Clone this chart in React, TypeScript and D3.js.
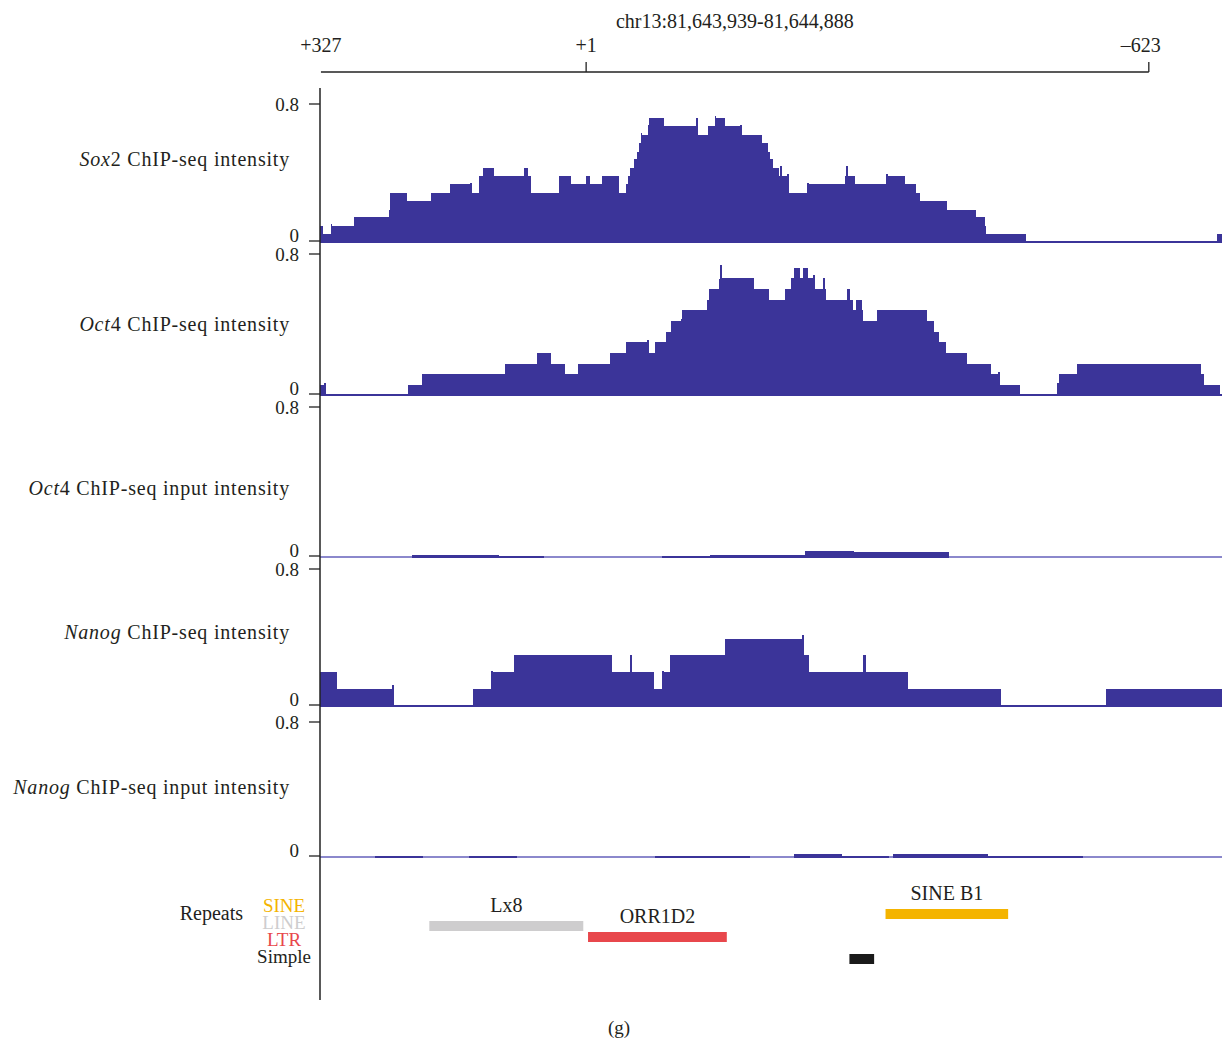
import React, { useEffect, useRef } from 'react'
import * as d3 from 'd3'

// region shown, offsets in bp from the left edge
const regionLabel = 'chr13:81,643,939-81,644,888'
const regionLength = 949

// top ruler: position (bp offset) and label relative to the TSS
const rulerPos = [1, 280, 872]
const rulerLabels = ['+327', '+1', '\u2013623']

const yTicks = [0, 0.8]

// step tracks: [start bp offset, value], each step runs to the next start
// null = no data
const sox2Steps: [number, number | null][] = [
  [0, 0.088], [3, 0.041], [12, 0.1], [13, 0.088], [36, 0.142], [73, 0.18], [74, 0.28], [92, 0.234],
  [117, 0.28], [137, 0.333], [158, 0.34], [160, 0.28], [167, 0.38], [171, 0.427], [183, 0.38],
  [215, 0.427], [219, 0.38], [222, 0.28], [251, 0.38], [264, 0.333], [280, 0.38], [284, 0.333],
  [297, 0.38], [315, 0.28], [322, 0.333], [324, 0.38], [326, 0.427], [330, 0.48], [333, 0.52],
  [336, 0.575], [338, 0.633], [339, 0.62], [345, 0.678], [346, 0.717], [362, 0.672], [396, 0.717],
  [398, 0.62], [408, 0.672], [416, 0.73], [417, 0.717], [426, 0.672], [442, 0.678], [444, 0.62],
  [465, 0.575], [471, 0.52], [473, 0.48], [477, 0.427], [483, 0.38], [484, 0.44], [486, 0.38],
  [491, 0.39], [493, 0.28], [512, 0.34], [514, 0.333], [552, 0.38], [553, 0.44], [555, 0.38],
  [563, 0.333], [595, 0.39], [598, 0.38], [616, 0.333], [627, 0.28], [631, 0.234], [660, 0.18],
  [690, 0.14], [700, 0.088], [701, 0.041], [743, 0], [944, 0.041],
]

const oct4Steps: [number, number | null][] = [
  [0, 0.051], [4, 0.065], [6, 0], [93, 0.051], [107, 0.114], [195, 0.171], [228, 0.234], [243, 0.171],
  [258, 0.114], [271, 0.171], [305, 0.234], [322, 0.297], [344, 0.308], [346, 0.234], [352, 0.297],
  [364, 0.354], [369, 0.417], [380, 0.43], [381, 0.48], [407, 0.537], [409, 0.6], [420, 0.66],
  [421, 0.737], [423, 0.663], [457, 0.6], [472, 0.537], [489, 0.6], [496, 0.663], [499, 0.72],
  [505, 0.663], [508, 0.72], [513, 0.663], [519, 0.68], [521, 0.6], [529, 0.663], [531, 0.6],
  [532, 0.537], [554, 0.6], [558, 0.537], [561, 0.48], [564, 0.537], [570, 0.48], [571, 0.417],
  [586, 0.48], [639, 0.417], [646, 0.354], [651, 0.297], [659, 0.234], [681, 0.171], [706, 0.114],
  [713, 0.126], [715, 0.051], [736, 0], [775, 0.063], [777, 0.051], [778, 0.114], [796, 0.171],
  [927, 0.114], [930, 0.051], [947, 0],
]

const oct4InputSteps: [number, number | null][] = [
  [0, null], [97, 0.004], [188, 0], [236, null], [360, 0], [410, 0.004], [510, 0.028], [562, 0.022], [662, null],
]

const nanogSteps: [number, number | null][] = [
  [0, 0.194], [18, 0.094], [76, 0.118], [78, 0], [161, 0.094], [180, 0.2], [182, 0.194], [204, 0.294],
  [307, 0.194], [326, 0.294], [328, 0.194], [351, 0.094], [360, 0.2], [362, 0.194], [368, 0.294],
  [426, 0.388], [507, 0.41], [509, 0.294], [514, 0.194], [571, 0.294], [574, 0.194], [619, 0.094],
  [716, 0], [827, 0.094],
]

const nanogInputSteps: [number, number | null][] = [
  [0, null], [58, 0], [108, null], [157, 0], [207, null], [352, 0], [452, null], [499, 0.012],
  [549, 0], [599, null], [603, 0.012], [703, 0], [803, null],
]

// repeat annotations
const repeatNames = ['Lx8', 'ORR1D2', 'SINE B1', '']
const repeatClasses = ['LINE', 'LTR', 'SINE', 'Simple']
const repeatStart = [115, 282, 595, 557]
const repeatEnd = [277, 428, 724, 583]

const legendClasses = ['SINE', 'LINE', 'LTR', 'Simple']

// layout
const W = 1224
const H = 1040
const fillColor = '#3b3499'
const baseColor = '#8b88cc'
const textColor = '#231f20'
const font = '"Liberation Serif", serif'
const classColor: Record<string, string> = { SINE: '#f4b400', LINE: '#cecdce', LTR: '#e8474c', Simple: '#1a1a1a' }
const classRowY: Record<string, number> = { SINE: 909, LINE: 921, LTR: 932, Simple: 954 }

const tracks = [
  { gene: 'Sox', rest: '2 ChIP-seq intensity', steps: sox2Steps, top: 104, zero: 241, labelY: 166 },
  { gene: 'Oct', rest: '4 ChIP-seq intensity', steps: oct4Steps, top: 254, zero: 394, labelY: 331 },
  { gene: 'Oct', rest: '4 ChIP-seq input intensity', steps: oct4InputSteps, top: 407, zero: 556, labelY: 495 },
  { gene: 'Nanog', rest: ' ChIP-seq intensity', steps: nanogSteps, top: 569, zero: 705, labelY: 639 },
  { gene: 'Nanog', rest: ' ChIP-seq input intensity', steps: nanogInputSteps, top: 722, zero: 856, labelY: 794 },
]

export default function App() {
  const ref = useRef<SVGSVGElement>(null)

  useEffect(() => {
    const svg = d3.select(ref.current)
    svg.selectAll('*').remove()

    const x = d3.scaleLinear().domain([0, regionLength]).range([320, 1222])
    const axisX = 320

    svg.append('rect').attr('width', W).attr('height', H).attr('fill', '#fff')

    // title and ruler
    svg.append('text')
      .attr('x', x((rulerPos[0] + rulerPos[rulerPos.length - 1]) / 2))
      .attr('y', 28)
      .attr('text-anchor', 'middle')
      .attr('font-family', font).attr('font-size', 20).attr('fill', textColor)
      .text(regionLabel)

    svg.append('line')
      .attr('x1', x(rulerPos[0])).attr('x2', x(rulerPos[rulerPos.length - 1]))
      .attr('y1', 72).attr('y2', 72)
      .attr('stroke', '#222').attr('stroke-width', 1.3)

    rulerPos.forEach((p, i) => {
      const last = i === rulerPos.length - 1
      if (i > 0) {
        svg.append('line')
          .attr('x1', x(p)).attr('x2', x(p)).attr('y1', 62).attr('y2', 72)
          .attr('stroke', '#222').attr('stroke-width', 1.3)
      }
      svg.append('text')
        .attr('x', x(p) + (last ? -8 : 0)).attr('y', 52)
        .attr('text-anchor', 'middle')
        .attr('font-family', font).attr('font-size', 20).attr('fill', textColor)
        .text(rulerLabels[i])
    })

    // signal tracks
    tracks.forEach(t => {
      const y = d3.scaleLinear().domain([0, 0.8]).range([t.zero, t.top])
      const g = svg.append('g')

      g.append('line')
        .attr('x1', x(0)).attr('x2', x(regionLength))
        .attr('y1', y(0) + 1).attr('y2', y(0) + 1)
        .attr('stroke', baseColor).attr('stroke-width', 2)

      const segs = t.steps
        .map((s, i) => ({
          start: s[0],
          end: i < t.steps.length - 1 ? t.steps[i + 1][0] : regionLength,
          v: s[1],
        }))
        .filter(d => d.v !== null) as { start: number; end: number; v: number }[]

      g.append('g').attr('shape-rendering', 'crispEdges')
        .selectAll('rect')
        .data(segs)
        .enter().append('rect')
        .attr('x', d => x(d.start))
        .attr('width', d => x(d.end) - x(d.start))
        .attr('y', d => y(d.v))
        .attr('height', d => y(0) + 2 - y(d.v))
        .attr('fill', fillColor)

      yTicks.forEach(v => {
        g.append('line')
          .attr('x1', axisX - 11).attr('x2', axisX)
          .attr('y1', y(v)).attr('y2', y(v))
          .attr('stroke', '#333').attr('stroke-width', 1.4)
        g.append('text')
          .attr('x', axisX - 21).attr('y', y(v) + (v === 0 ? 1 : 7))
          .attr('text-anchor', 'end')
          .attr('font-family', font).attr('font-size', 19).attr('fill', textColor)
          .text(d3.format('')(v))
      })

      const label = g.append('text')
        .attr('x', 290).attr('y', t.labelY)
        .attr('text-anchor', 'end')
        .attr('font-family', font).attr('font-size', 20).attr('fill', textColor)
        .attr('letter-spacing', 0.8)
      label.append('tspan').attr('font-style', 'italic').text(t.gene)
      label.append('tspan').text(t.rest)
    })

    // vertical axis line
    svg.append('line')
      .attr('x1', axisX).attr('x2', axisX).attr('y1', 88).attr('y2', 1000)
      .attr('stroke', '#222').attr('stroke-width', 1.5)

    // repeats
    repeatNames.forEach((name, i) => {
      const cls = repeatClasses[i]
      const top = classRowY[cls]
      svg.append('rect')
        .attr('x', x(repeatStart[i]))
        .attr('width', x(repeatEnd[i]) - x(repeatStart[i]))
        .attr('y', top).attr('height', 10)
        .attr('fill', classColor[cls])
      if (name) {
        svg.append('text')
          .attr('x', x((repeatStart[i] + repeatEnd[i]) / 2)).attr('y', top - 9)
          .attr('text-anchor', 'middle')
          .attr('font-family', font).attr('font-size', 20).attr('fill', textColor)
          .text(name)
      }
    })

    svg.append('text')
      .attr('x', 243).attr('y', 920)
      .attr('text-anchor', 'end')
      .attr('font-family', font).attr('font-size', 20).attr('fill', textColor)
      .text('Repeats')

    legendClasses.forEach((c, i) => {
      svg.append('text')
        .attr('x', 284).attr('y', 912 + i * 17)
        .attr('text-anchor', 'middle')
        .attr('font-family', font).attr('font-size', 19)
        .attr('fill', c === 'Simple' ? textColor : classColor[c])
        .text(c)
    })

    svg.append('text')
      .attr('x', 619).attr('y', 1034)
      .attr('text-anchor', 'middle')
      .attr('font-family', font).attr('font-size', 19).attr('fill', textColor)
      .text('(g)')
  }, [])

  return <svg ref={ref} width={W} height={H} style={{ position: 'absolute', left: 0, top: 0 }} />
}
